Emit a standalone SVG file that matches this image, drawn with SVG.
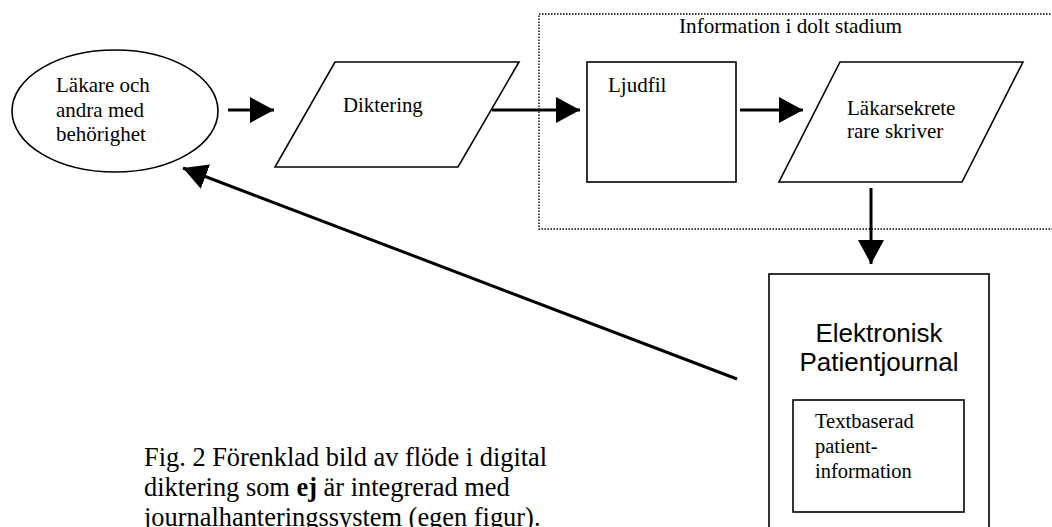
<svg xmlns="http://www.w3.org/2000/svg" width="1052" height="527" viewBox="0 0 1052 527">
<style>
.shape{fill:#fff;stroke:#000;stroke-width:1.6}
.serif{font-family:"Liberation Serif","Times New Roman",serif;fill:#000}
.sans{font-family:"Liberation Sans",Arial,sans-serif;fill:#000}
.conn{stroke:#000;stroke-width:3;fill:none;marker-end:url(#ah)}
.dotted{fill:none;stroke:#000;stroke-width:1.4;stroke-dasharray:1.5 1.5}
</style>
<defs>
<marker id="ah" markerUnits="userSpaceOnUse" markerWidth="25" markerHeight="26" refX="24" refY="13" orient="auto">
<path d="M0,0 L24,13 L0,26 z" fill="#000"/>
</marker>
</defs>
<rect width="1052" height="527" fill="#fff"/>
<g id="hidden-stage">
<rect class="dotted" x="539" y="14" width="520" height="215"/>
<text class="serif" x="679" y="33" font-size="21.2">Information i dolt stadium</text>
</g>
<g id="lakare">
<ellipse class="shape" cx="115" cy="111" rx="103" ry="61"/>
<text class="serif" font-size="21"><tspan x="56" y="92">Läkare och</tspan><tspan x="56" y="117">andra med</tspan><tspan x="56" y="141">behörighet</tspan></text>
</g>
<g id="diktering">
<polygon class="shape" points="335,62 519,62 458,167 275,167"/>
<text class="serif" x="343" y="112" font-size="20.8">Diktering</text>
</g>
<g id="ljudfil">
<rect class="shape" x="587" y="62" width="149" height="120"/>
<text class="serif" x="608" y="92" font-size="21">Ljudfil</text>
</g>
<g id="sekreterare">
<polygon class="shape" points="840,62 1023,62 962,182 779,182"/>
<text class="serif" font-size="21"><tspan x="847" y="115">Läkarsekrete</tspan><tspan x="847" y="138">rare skriver</tspan></text>
</g>
<g id="epj">
<rect class="shape" x="769" y="274" width="220" height="270"/>
<text class="sans" font-size="26" text-anchor="middle"><tspan x="879" y="342">Elektronisk</tspan><tspan x="879" y="371">Patientjournal</tspan></text>
</g>
<g id="textbaserad">
<rect class="shape" x="793" y="400" width="171" height="112"/>
<text class="serif" font-size="20.5"><tspan x="815" y="428">Textbaserad</tspan><tspan x="815" y="453">patient-</tspan><tspan x="815" y="478">information</tspan></text>
</g>
<g id="connectors">
<line class="conn" x1="228" y1="110" x2="274" y2="110"/>
<line class="conn" x1="492" y1="110" x2="580" y2="110"/>
<line class="conn" x1="740" y1="110" x2="803" y2="110"/>
<line class="conn" x1="871" y1="188" x2="871" y2="264"/>
<line class="conn" x1="737" y1="379" x2="183" y2="168"/>
</g>
<g id="caption">
<text class="serif" font-size="26.4"><tspan x="144" y="466">Fig. 2 Förenklad bild av flöde i digital</tspan><tspan x="144" y="496">diktering som <tspan font-weight="bold">ej</tspan> är integrerad med</tspan><tspan x="144" y="526">journalhanteringssystem (egen figur).</tspan></text>
</g>
</svg>
